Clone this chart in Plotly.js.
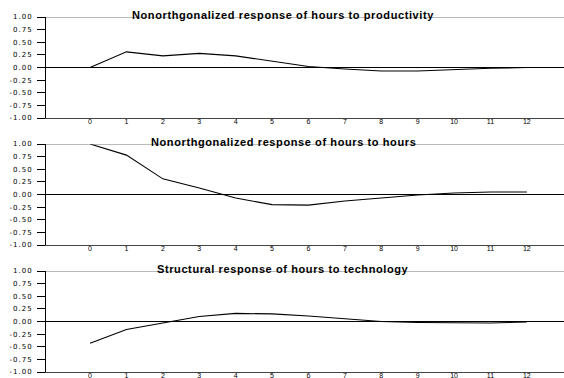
<!DOCTYPE html>
<html>
<head>
<meta charset="utf-8">
<script src="https://cdn.plot.ly/plotly-3.0.1.min.js"></script>
<style>
  html, body { margin: 0; padding: 0; background: #fff; }
  #chart { width: 564px; height: 378px; }
  g.ytick text, g.y2tick text, g.y3tick text { letter-spacing: 1px; }
  text.annotation-text { letter-spacing: 0.6px; }
</style>
</head>
<body>
<div id="chart"></div>
<script>
// Impulse-response horizons (quarters after the shock)
const horizons = [0, 1, 2, 3, 4, 5, 6, 7, 8, 9, 10, 11, 12];

// Response of hours to a productivity shock (nonorthogonalized)
const hoursToProductivity = [0.00, 0.31, 0.23, 0.28, 0.23, 0.12, 0.02, -0.03, -0.07, -0.07, -0.04, -0.015, 0.00];

// Response of hours to an hours shock (nonorthogonalized)
const hoursToHours = [1.00, 0.78, 0.31, 0.13, -0.07, -0.20, -0.21, -0.13, -0.07, -0.01, 0.03, 0.05, 0.05];

// Structural response of hours to a technology shock
const hoursToTechnology = [-0.43, -0.16, -0.03, 0.10, 0.16, 0.15, 0.11, 0.05, 0.00, -0.02, -0.03, -0.03, -0.01];

const panelTitles = [
  "Nonorthgonalized response of hours to productivity",
  "Nonorthgonalized response of hours to hours",
  "Structural response of hours to technology"
];

const yTickVals = [1, 0.75, 0.5, 0.25, 0, -0.25, -0.5, -0.75, -1];
const yTickText = ["1.00", "0.75", "0.50", "0.25", "0.00", "-0.25", "-0.50", "-0.75", "-1.00"];

const H = 378;
// panel pixel extents (top, bottom) of the -1..1 box
const panels = [[17, 118], [144, 245], [271, 372]];
const series = [hoursToProductivity, hoursToHours, hoursToTechnology];

const font = "Liberation Sans, Arial, sans-serif";
const traces = [];
const layout = {
  width: 564, height: 378,
  margin: {l: 0, r: 0, t: 0, b: 0},
  paper_bgcolor: "#fff", plot_bgcolor: "#fff",
  showlegend: false,
  font: {family: font, color: "#000", size: 8},
  annotations: [],
  shapes: []
};

series.forEach((vals, i) => {
  const n = i === 0 ? "" : String(i + 1);
  traces.push({
    x: horizons, y: vals, type: "scatter", mode: "lines",
    xaxis: "x" + n, yaxis: "y" + n,
    line: {color: "#000", width: 1.1},
    hoverinfo: "skip"
  });
  const [top, bot] = panels[i];
  layout["xaxis" + n] = {
    domain: [46 / 564, 1],
    range: [-1.21, 13.02],
    anchor: "y" + n,
    tickvals: horizons,
    ticktext: horizons.map(String),
    tickfont: {size: 7, family: font, color: "#000"},
    ticks: "", ticklen: 0,
    ticklabelstandoff: -3,
    showgrid: false, zeroline: false,
    showline: true, linecolor: "#444", linewidth: 1,
    fixedrange: true
  };
  layout["yaxis" + n] = {
    domain: [1 - bot / H, 1 - top / H],
    range: [-1, 1],
    anchor: "x" + n,
    tickvals: yTickVals,
    ticktext: yTickText,
    tickfont: {size: 7, family: "DejaVu Sans, sans-serif", color: "#000"},
    ticks: "outside", ticklen: 8, tickcolor: "#000", tickwidth: 1,
    ticklabelstandoff: 3,
    showgrid: false,
    zeroline: true, zerolinecolor: "#000", zerolinewidth: 1,
    showline: true, linecolor: "#000", linewidth: 1,
    fixedrange: true
  };
  // upper frame line of the panel, drawn over the title text
  layout.shapes.push({
    type: "line", xref: "x" + n + " domain", yref: "y" + n,
    x0: 0, x1: 1, y0: 1, y1: 1,
    line: {color: "#777", width: 1}
  });
  layout.annotations.push({
    text: "<b>" + panelTitles[i] + "</b>",
    xref: "paper", yref: "paper",
    x: 0.502, y: 1 - (top - 2) / H,
    xanchor: "center", yanchor: "middle",
    showarrow: false,
    font: {size: 11, family: font, color: "#000"}
  });
});

Plotly.newPlot("chart", traces, layout, {displayModeBar: false, staticPlot: true});
</script>
</body>
</html>
